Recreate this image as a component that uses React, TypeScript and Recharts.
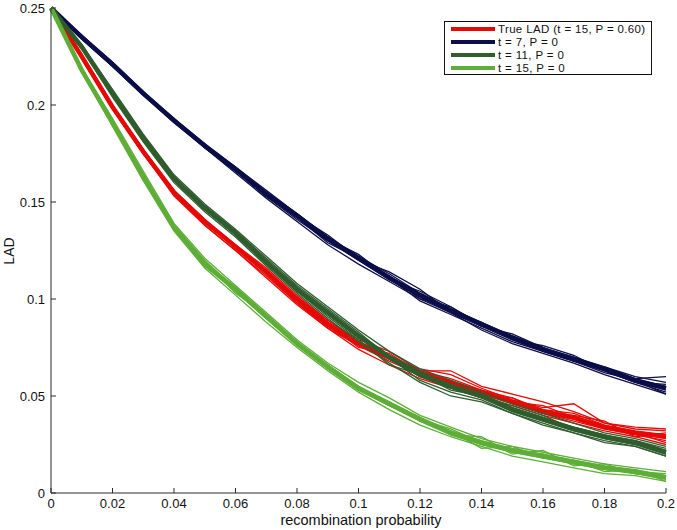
import { Label, Line, LineChart, XAxis, YAxis } from "recharts";

const probs = [
  0, 0.01, 0.02, 0.03, 0.04, 0.05, 0.06, 0.07, 0.08, 0.09, 0.1, 0.11, 0.12,
  0.13, 0.14, 0.15, 0.16, 0.17, 0.18, 0.19, 0.2,
];
const xTicks = [0, 0.02, 0.04, 0.06, 0.08, 0.1, 0.12, 0.14, 0.16, 0.18, 0.2];
const yTicks = [0, 0.05, 0.1, 0.15, 0.2, 0.25];

// True LAD (t = 15, P = 0.60)
const trueMean = [0.25, 0.225, 0.199, 0.176, 0.155, 0.14, 0.127, 0.114, 0.1, 0.087, 0.077, 0.07, 0.062, 0.057, 0.052, 0.047, 0.042, 0.039, 0.034, 0.031, 0.029];
const trueRuns = [
  [0.25, 0.226, 0.2, 0.177, 0.156, 0.141, 0.126, 0.115, 0.101, 0.088, 0.078, 0.071, 0.063, 0.059, 0.053, 0.049, 0.043, 0.041, 0.035, 0.032, 0.03],
  [0.25, 0.224, 0.198, 0.175, 0.154, 0.138, 0.125, 0.112, 0.098, 0.085, 0.076, 0.068, 0.061, 0.055, 0.051, 0.046, 0.041, 0.037, 0.033, 0.03, 0.027],
  [0.25, 0.225, 0.199, 0.176, 0.155, 0.14, 0.128, 0.114, 0.099, 0.086, 0.077, 0.069, 0.064, 0.061, 0.054, 0.048, 0.044, 0.046, 0.036, 0.033, 0.032],
  [0.25, 0.225, 0.2, 0.177, 0.154, 0.139, 0.127, 0.115, 0.1, 0.087, 0.075, 0.072, 0.062, 0.056, 0.053, 0.047, 0.045, 0.039, 0.034, 0.031, 0.026],
  [0.25, 0.226, 0.199, 0.175, 0.156, 0.14, 0.126, 0.113, 0.101, 0.089, 0.078, 0.07, 0.06, 0.058, 0.05, 0.049, 0.042, 0.04, 0.037, 0.029, 0.031],
  [0.25, 0.224, 0.198, 0.176, 0.155, 0.139, 0.127, 0.113, 0.098, 0.086, 0.076, 0.069, 0.062, 0.056, 0.052, 0.046, 0.041, 0.038, 0.033, 0.031, 0.028],
  [0.25, 0.225, 0.199, 0.177, 0.155, 0.141, 0.128, 0.116, 0.102, 0.089, 0.079, 0.073, 0.063, 0.063, 0.055, 0.051, 0.047, 0.042, 0.036, 0.034, 0.033],
  [0.25, 0.224, 0.198, 0.175, 0.153, 0.138, 0.125, 0.111, 0.097, 0.085, 0.074, 0.066, 0.059, 0.054, 0.049, 0.045, 0.04, 0.036, 0.032, 0.029, 0.025],
];

// t = 7, P = 0
const t7Mean = [0.25, 0.235, 0.221, 0.206, 0.192, 0.179, 0.167, 0.154, 0.143, 0.131, 0.121, 0.111, 0.102, 0.094, 0.087, 0.08, 0.074, 0.069, 0.064, 0.058, 0.054];
const t7Runs = [
  [0.25, 0.236, 0.222, 0.207, 0.193, 0.18, 0.168, 0.155, 0.144, 0.132, 0.122, 0.113, 0.103, 0.095, 0.088, 0.081, 0.075, 0.07, 0.065, 0.059, 0.055],
  [0.25, 0.234, 0.22, 0.205, 0.191, 0.178, 0.166, 0.153, 0.141, 0.13, 0.12, 0.11, 0.101, 0.093, 0.086, 0.079, 0.073, 0.068, 0.063, 0.057, 0.052],
  [0.25, 0.235, 0.221, 0.207, 0.192, 0.18, 0.166, 0.155, 0.143, 0.133, 0.121, 0.112, 0.1, 0.096, 0.087, 0.08, 0.074, 0.07, 0.064, 0.059, 0.06],
  [0.25, 0.236, 0.221, 0.206, 0.193, 0.179, 0.167, 0.154, 0.142, 0.131, 0.123, 0.111, 0.102, 0.094, 0.086, 0.082, 0.075, 0.069, 0.064, 0.058, 0.051],
  [0.25, 0.235, 0.222, 0.206, 0.191, 0.179, 0.168, 0.156, 0.144, 0.131, 0.12, 0.114, 0.105, 0.093, 0.088, 0.079, 0.076, 0.071, 0.063, 0.057, 0.056],
  [0.25, 0.234, 0.22, 0.205, 0.192, 0.178, 0.166, 0.153, 0.142, 0.129, 0.121, 0.111, 0.099, 0.092, 0.085, 0.078, 0.073, 0.068, 0.062, 0.058, 0.053],
  [0.25, 0.236, 0.221, 0.206, 0.192, 0.179, 0.167, 0.155, 0.143, 0.132, 0.121, 0.11, 0.104, 0.096, 0.086, 0.081, 0.075, 0.068, 0.065, 0.06, 0.057],
  [0.25, 0.235, 0.22, 0.206, 0.192, 0.178, 0.165, 0.152, 0.14, 0.128, 0.118, 0.109, 0.1, 0.093, 0.084, 0.077, 0.072, 0.067, 0.061, 0.056, 0.051],
];

// t = 11, P = 0
const t11Mean = [0.25, 0.23, 0.206, 0.183, 0.162, 0.147, 0.134, 0.119, 0.105, 0.093, 0.081, 0.07, 0.061, 0.055, 0.05, 0.043, 0.038, 0.033, 0.029, 0.026, 0.021];
const t11Runs = [
  [0.25, 0.231, 0.207, 0.184, 0.163, 0.148, 0.135, 0.12, 0.106, 0.094, 0.082, 0.071, 0.062, 0.056, 0.051, 0.044, 0.039, 0.034, 0.03, 0.027, 0.022],
  [0.25, 0.229, 0.205, 0.182, 0.161, 0.146, 0.133, 0.118, 0.104, 0.092, 0.08, 0.069, 0.06, 0.054, 0.049, 0.042, 0.037, 0.032, 0.028, 0.025, 0.02],
  [0.25, 0.23, 0.207, 0.184, 0.162, 0.148, 0.135, 0.121, 0.107, 0.095, 0.083, 0.07, 0.058, 0.052, 0.048, 0.041, 0.036, 0.031, 0.026, 0.024, 0.019],
  [0.25, 0.231, 0.206, 0.183, 0.163, 0.147, 0.133, 0.119, 0.104, 0.091, 0.079, 0.066, 0.061, 0.056, 0.05, 0.044, 0.039, 0.033, 0.029, 0.027, 0.023],
  [0.25, 0.229, 0.206, 0.182, 0.161, 0.146, 0.134, 0.118, 0.105, 0.093, 0.081, 0.071, 0.063, 0.055, 0.051, 0.043, 0.038, 0.034, 0.03, 0.026, 0.021],
  [0.25, 0.23, 0.205, 0.183, 0.162, 0.147, 0.134, 0.12, 0.105, 0.092, 0.08, 0.07, 0.061, 0.053, 0.05, 0.045, 0.04, 0.033, 0.028, 0.025, 0.02],
  [0.25, 0.231, 0.208, 0.185, 0.164, 0.149, 0.136, 0.122, 0.108, 0.096, 0.084, 0.073, 0.064, 0.058, 0.052, 0.046, 0.041, 0.036, 0.031, 0.028, 0.024],
  [0.25, 0.229, 0.204, 0.181, 0.16, 0.145, 0.132, 0.117, 0.103, 0.09, 0.078, 0.067, 0.057, 0.05, 0.047, 0.041, 0.035, 0.031, 0.027, 0.024, 0.019],
];

// t = 15, P = 0
const t15Mean = [0.25, 0.218, 0.191, 0.163, 0.137, 0.118, 0.105, 0.091, 0.077, 0.065, 0.054, 0.046, 0.038, 0.031, 0.026, 0.022, 0.019, 0.016, 0.013, 0.011, 0.008];
const t15Runs = [
  [0.25, 0.219, 0.192, 0.164, 0.138, 0.119, 0.106, 0.092, 0.078, 0.066, 0.055, 0.047, 0.039, 0.032, 0.027, 0.023, 0.02, 0.017, 0.014, 0.012, 0.009],
  [0.25, 0.217, 0.19, 0.162, 0.136, 0.117, 0.104, 0.09, 0.076, 0.064, 0.053, 0.045, 0.037, 0.03, 0.025, 0.021, 0.018, 0.015, 0.012, 0.01, 0.007],
  [0.25, 0.218, 0.191, 0.165, 0.136, 0.119, 0.103, 0.092, 0.076, 0.066, 0.055, 0.046, 0.039, 0.03, 0.029, 0.02, 0.022, 0.014, 0.015, 0.01, 0.009],
  [0.25, 0.218, 0.192, 0.163, 0.138, 0.12, 0.105, 0.09, 0.078, 0.064, 0.053, 0.047, 0.037, 0.032, 0.023, 0.024, 0.018, 0.017, 0.011, 0.012, 0.006],
  [0.25, 0.219, 0.19, 0.162, 0.137, 0.117, 0.106, 0.091, 0.077, 0.065, 0.054, 0.045, 0.038, 0.033, 0.026, 0.022, 0.02, 0.016, 0.013, 0.011, 0.01],
  [0.25, 0.217, 0.191, 0.164, 0.137, 0.118, 0.104, 0.091, 0.077, 0.065, 0.054, 0.046, 0.038, 0.031, 0.025, 0.021, 0.019, 0.015, 0.013, 0.01, 0.008],
  [0.25, 0.219, 0.193, 0.166, 0.139, 0.121, 0.107, 0.093, 0.079, 0.067, 0.057, 0.049, 0.04, 0.034, 0.028, 0.024, 0.021, 0.018, 0.015, 0.013, 0.011],
  [0.25, 0.217, 0.189, 0.161, 0.135, 0.116, 0.102, 0.088, 0.075, 0.063, 0.052, 0.043, 0.035, 0.029, 0.024, 0.019, 0.016, 0.013, 0.01, 0.009, 0.006],
];

const series = [
  { id: "tru", name: "True LAD (t = 15, P = 0.60)", color: "#e50a06", mean: trueMean, runs: trueRuns },
  { id: "t7", name: "t = 7, P = 0", color: "#0b0e48", mean: t7Mean, runs: t7Runs },
  { id: "t11", name: "t = 11, P = 0", color: "#2f5d2e", mean: t11Mean, runs: t11Runs },
  { id: "t15", name: "t = 15, P = 0", color: "#5eae38", mean: t15Mean, runs: t15Runs },
];

const data = probs.map((p, i) => {
  const row: Record<string, number> = { p };
  series.forEach((s) => {
    row[s.id + "m"] = s.mean[i];
    s.runs.forEach((r, k) => {
      row[s.id + k] = r[i];
    });
  });
  return row;
});

const FONT = "'Liberation Sans', Arial, Helvetica, sans-serif";
const AXIS = "#2a2a2a";

const fmt = (v: number) => String(v);

const XTick = ({ x, y, payload }: any) => (
  <g>
    <line x1={x} x2={x} y1={y} y2={y - 5} stroke={AXIS} />
    <text x={x} y={y + 15} textAnchor="middle" fontSize={13} fontFamily={FONT} fill="#111">
      {fmt(payload.value)}
    </text>
  </g>
);

const YTick = ({ x, y, payload }: any) => (
  <g>
    <line x1={x} x2={x + 5} y1={y} y2={y} stroke={AXIS} />
    <text x={x - 6} y={y + 4.5} textAnchor="end" fontSize={13} fontFamily={FONT} fill="#111">
      {fmt(payload.value)}
    </text>
  </g>
);

const LegendBox = () => (
  <div
    style={{
      position: "absolute",
      left: 444,
      top: 21,
      width: 206,
      height: 52,
      border: "1px solid #111",
      background: "#fff",
      fontFamily: FONT,
      fontSize: 11.5,
      color: "#111",
      boxSizing: "content-box",
      paddingTop: 0,
    }}
  >
    {series.map((s) => (
      <div key={s.id} style={{ display: "flex", alignItems: "center", height: 13 }}>
        <div style={{ width: 44, height: 4, background: s.color, marginLeft: 6, marginRight: 3, flexShrink: 0 }} />
        <span style={{ whiteSpace: "nowrap", lineHeight: "12px", letterSpacing: 0.35 }}>{s.name}</span>
      </div>
    ))}
  </div>
);

export default function App() {
  return (
    <div style={{ position: "absolute", left: 0, top: 0, width: 677, height: 530, background: "#fff" }}>
      <LineChart width={677} height={530} data={data} margin={{ top: 8, right: 11, bottom: 0, left: 6 }}>
        <XAxis
          dataKey="p"
          type="number"
          domain={[0, 0.2]}
          ticks={xTicks}
          interval={0}
          tickSize={0}
          tickMargin={0}
          tickLine={false}
          axisLine={{ stroke: AXIS }}
          tick={<XTick />}
          height={37}
        >
          <Label
            content={() => (
              <text x={361} y={525} textAnchor="middle" fontSize={14.5} fontFamily={FONT} fill="#111">
                recombination probability
              </text>
            )}
          />
        </XAxis>
        <YAxis
          type="number"
          domain={[0, 0.25]}
          ticks={yTicks}
          interval={0}
          tickSize={0}
          tickMargin={0}
          tickLine={false}
          axisLine={{ stroke: AXIS }}
          tick={<YTick />}
          width={45}
        >
          <Label
            content={() => (
              <text x={14} y={251} transform="rotate(-90 14 251)" textAnchor="middle" fontSize={14} fontFamily={FONT} fill="#111">
                LAD
              </text>
            )}
          />
        </YAxis>
        {series.flatMap((s) => [
          <Line
            key={s.id + "m"}
            dataKey={s.id + "m"}
            stroke={s.color}
            strokeWidth={4.5}
            dot={false}
            activeDot={false}
            isAnimationActive={false}
          />,
          ...s.runs.map((_, k) => (
            <Line
              key={s.id + k}
              dataKey={s.id + k}
              stroke={s.color}
              strokeWidth={1.3}
              dot={false}
              activeDot={false}
              isAnimationActive={false}
            />
          )),
        ])}
      </LineChart>
      <LegendBox />
    </div>
  );
}
